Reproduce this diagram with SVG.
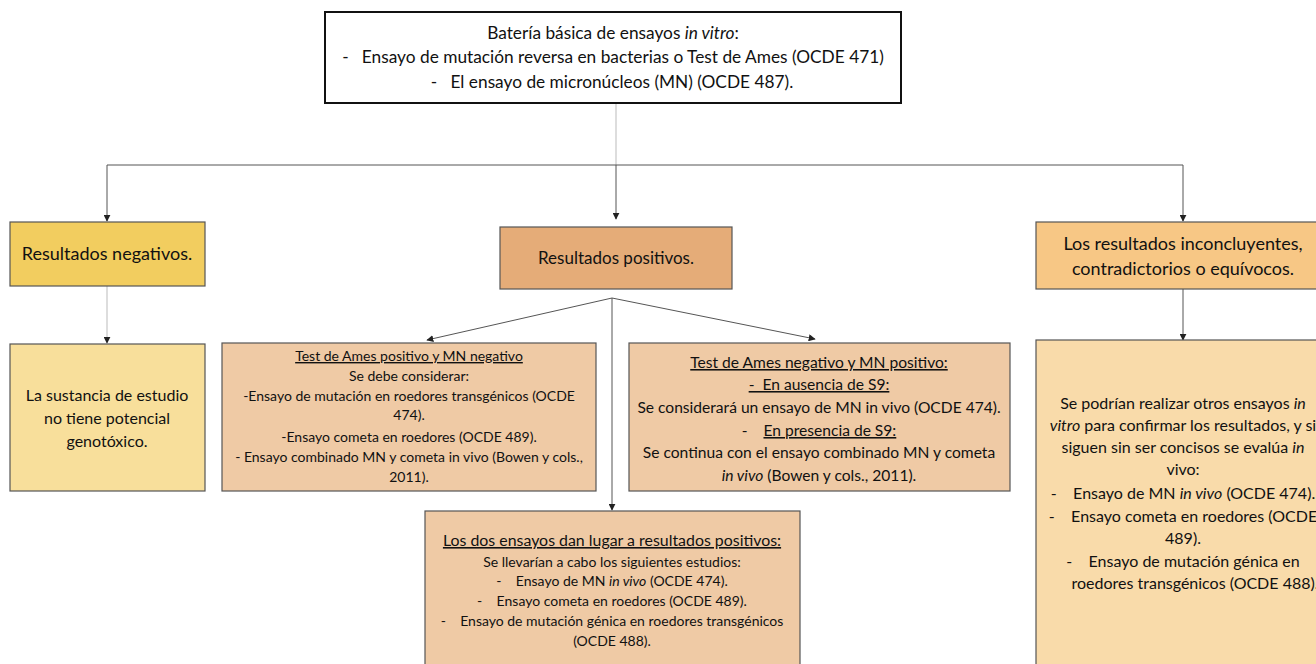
<svg xmlns="http://www.w3.org/2000/svg" width="1316" height="664" viewBox="0 0 1316 664">
<style>
text{font-family:Lato,"Open Sans","Liberation Sans",sans-serif;fill:#111;text-anchor:middle;white-space:pre}
.box{stroke:#555;stroke-width:1.2}
.conn{fill:none;stroke:#555;stroke-width:1}
.gray{stroke:#bbb}
.u{text-decoration:underline}
</style>
<defs>
<marker id="ah" viewBox="0 0 10 10" refX="9" refY="5" markerWidth="7" markerHeight="7" orient="auto" markerUnits="userSpaceOnUse">
<path d="M0,0 L10,5 L0,10 z" fill="#222"/>
</marker>
</defs>
<rect width="1316" height="664" fill="#fff"/>

<g id="connectors">
<path class="conn gray" d="M616,103 V165"/>
<path class="conn" d="M107,165 H1183"/>
<path class="conn" d="M107,165 V221" marker-end="url(#ah)"/>
<path class="conn" d="M616,165 V219" marker-end="url(#ah)"/>
<path class="conn" d="M1183,165 V221" marker-end="url(#ah)"/>
<path class="conn gray" d="M107,286 V343" marker-end="url(#ah)"/>
<path class="conn" d="M612,298 L427,340" marker-end="url(#ah)"/>
<path class="conn" d="M612,298 L815,339" marker-end="url(#ah)"/>
<path class="conn" d="M612,298 V510" marker-end="url(#ah)"/>
<path class="conn" d="M1183,289 V340" marker-end="url(#ah)"/>
</g>

<g id="top">
<rect x="325" y="12" width="576" height="91" fill="#fff" stroke="#111" stroke-width="2"/>
<text x="613" y="39" font-size="17.3">Batería básica de ensayos <tspan font-style="italic">in vitro</tspan>:</text>
<text x="613" y="63" font-size="17.3">-   Ensayo de mutación reversa en bacterias o Test de Ames (OCDE 471)</text>
<text x="612" y="88" font-size="17.3">-   El ensayo de micronúcleos (MN) (OCDE 487).</text>
</g>

<g id="negativos">
<rect class="box" x="10" y="222" width="195" height="64" fill="#F2CD5F"/>
<text x="107" y="260" font-size="18">Resultados negativos.</text>
</g>

<g id="positivos">
<rect class="box" x="500" y="227" width="232" height="62" fill="#E5AC78"/>
<text x="616" y="264" font-size="17">Resultados positivos.</text>
</g>

<g id="inconcluyentes">
<rect class="box" x="1036" y="222" width="290" height="67" fill="#F7C785"/>
<text x="1183" y="250" font-size="18">Los resultados inconcluyentes,</text>
<text x="1183" y="275" font-size="18">contradictorios o equívocos.</text>
</g>

<g id="sustancia">
<rect class="box" x="10" y="344" width="195" height="147" fill="#F8DF9B"/>
<text x="107" y="401" font-size="16">La sustancia de estudio</text>
<text x="107" y="424" font-size="16">no tiene potencial</text>
<text x="107" y="447" font-size="16">genotóxico.</text>
</g>

<g id="ames-pos">
<rect class="box" x="222" y="343" width="374" height="148" fill="#EFCAA5"/>
<text class="u" x="409" y="361" font-size="14">Test de Ames positivo y MN negativo</text>
<text x="409" y="381" font-size="14">Se debe considerar:</text>
<text x="409" y="401" font-size="14">-Ensayo de mutación en roedores transgénicos (OCDE</text>
<text x="409" y="420" font-size="14">474).</text>
<text x="409" y="442" font-size="14">-Ensayo cometa en roedores (OCDE 489).</text>
<text x="409" y="462" font-size="14">- Ensayo combinado MN y cometa in vivo (Bowen y cols.,</text>
<text x="409" y="482" font-size="14">2011).</text>
</g>

<g id="ames-neg">
<rect class="box" x="629" y="343" width="381" height="148" fill="#EFCAA5"/>
<text class="u" x="819" y="368" font-size="15.6">Test de Ames negativo y MN positivo:</text>
<text x="819" y="390" font-size="15.6"><tspan class="u">-  En ausencia de S9:</tspan></text>
<text x="819" y="413" font-size="15.6">Se considerará un ensayo de MN in vivo (OCDE 474).</text>
<text x="819" y="436" font-size="15.6">-    <tspan class="u">En presencia de S9:</tspan></text>
<text x="819" y="458" font-size="15.6">Se continua con el ensayo combinado MN y cometa</text>
<text x="819" y="481" font-size="15.6"><tspan font-style="italic">in vivo</tspan> (Bowen y cols., 2011).</text>
</g>

<g id="dos-ensayos">
<rect class="box" x="425" y="511" width="375" height="160" fill="#EFCAA5"/>
<text class="u" x="612" y="546" font-size="15.9">Los dos ensayos dan lugar a resultados positivos:</text>
<text x="612" y="567" font-size="14">Se llevarían a cabo los siguientes estudios:</text>
<text x="612" y="586" font-size="14">-    Ensayo de MN <tspan font-style="italic">in vivo</tspan> (OCDE 474).</text>
<text x="612" y="606" font-size="14">-    Ensayo cometa en roedores (OCDE 489).</text>
<text x="612" y="626" font-size="14">-    Ensayo de mutación génica en roedores transgénicos</text>
<text x="612" y="646" font-size="14">(OCDE 488).</text>
</g>

<g id="otros">
<rect class="box" x="1036" y="340" width="300" height="340" fill="#F9DBAA"/>
<text x="1183" y="409" font-size="16">Se podrían realizar otros ensayos <tspan font-style="italic">in</tspan></text>
<text x="1183" y="431" font-size="16"><tspan font-style="italic">vitro</tspan> para confirmar los resultados, y si</text>
<text x="1183" y="453" font-size="16">siguen sin ser concisos se evalúa <tspan font-style="italic">in</tspan></text>
<text x="1183" y="475" font-size="16">vivo:</text>
<text x="1183" y="499" font-size="16">-    Ensayo de MN <tspan font-style="italic">in vivo</tspan> (OCDE 474).</text>
<text x="1183" y="522" font-size="16">-    Ensayo cometa en roedores (OCDE</text>
<text x="1183" y="544" font-size="16">489).</text>
<text x="1183" y="567" font-size="16">-    Ensayo de mutación génica en</text>
<text x="1195" y="589" font-size="16">roedores transgénicos (OCDE 488).</text>
</g>
</svg>
